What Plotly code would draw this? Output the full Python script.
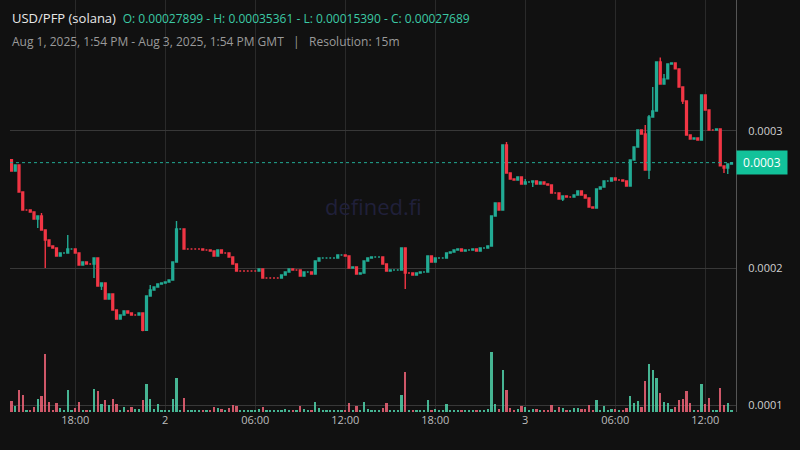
import plotly.graph_objects as go
import pandas as pd

# prices in units of 1e-5
close_e5 = [
    27.08,27.52,25.55,24.23,24.23,24.09,23.58,23.80,22.77,22.04,
    21.61,21.46,20.88,21.09,21.09,21.39,21.39,21.09,20.22,20.44,
    20.29,20.29,20.73,18.69,18.91,17.74,18.10,16.93,16.28,16.57,
    16.86,16.72,16.57,16.57,16.72,15.45,17.96,18.39,18.61,18.83,
    18.91,18.98,19.12,20.44,22.85,22.85,21.39,21.39,21.39,21.39,
    21.39,21.31,21.31,21.24,20.88,21.31,21.09,21.09,20.80,20.29,
    19.78,19.78,19.78,19.78,19.78,19.78,19.93,19.27,19.27,19.27,
    19.27,19.27,19.49,19.71,19.93,19.85,19.85,19.42,19.71,19.71,
    19.56,20.51,20.73,20.73,20.73,20.73,20.73,20.95,20.95,20.88,
    20.00,20.07,19.56,19.64,20.51,20.73,20.80,20.80,20.80,20.29,
    19.78,19.85,19.85,19.85,21.46,19.64,19.64,19.49,19.64,19.71,
    19.71,20.88,20.44,20.73,20.73,20.73,21.09,21.17,21.31,21.39,
    21.24,21.31,21.31,21.39,21.24,21.46,21.46,21.61,23.80,24.74,
    24.23,28.98,26.93,26.50,26.42,26.64,26.13,26.28,26.28,26.35,
    26.13,26.28,26.13,26.06,25.47,25.47,25.04,25.26,25.18,25.18,
    25.33,25.62,25.33,25.11,24.45,24.38,25.77,25.91,26.35,26.35,
    26.57,26.42,26.42,26.35,25.99,27.88,28.83,30.07,29.78,27.15,
    31.02,31.46,35.04,33.43,33.80,34.89,34.96,34.53,33.21,32.19,
    29.71,29.42,29.49,29.34,32.63,31.53,30.07,30.07,30.15,27.45,
    27.30,27.59,27.69,
]
first_open_e5 = 27.90
wick_hi_idx = [0, 8, 15, 37, 44, 132, 137, 169, 170, 171, 173, 174]
wick_hi_val = [27.95, 24.01, 22.41, 18.76, 23.43, 29.20, 26.50, 30.44, 31.17, 33.21, 35.361, 34.16]
wick_lo_idx = [7, 9, 22, 24, 35, 105, 139, 147, 170, 179, 190, 191]
wick_lo_val = [22.92, 20.00, 19.27, 18.39, 15.39, 18.47, 25.91, 24.89, 26.50, 31.97, 26.93, 26.86]
volume = [
    11,6,22,17,2,2,5,13,16,58, 10,2,9,4,2,22,2,4,10,2,
    2,2,23,21,8,12,7,13,8,2, 5,2,5,3,3,12,28,13,3,8,
    2,2,2,13,34,2,14,2,2,2, 2,2,2,2,5,4,3,2,4,7,
    6,2,2,2,2,2,3,5,2,2, 2,2,2,3,2,2,2,6,3,2,
    2,10,4,2,2,2,2,2,2,2, 9,2,6,2,10,3,2,2,2,4,
    9,2,2,2,17,40,2,2,2,2, 2,12,2,3,2,2,8,2,2,2,
    2,2,2,2,2,2,2,3,60,8, 3,42,22,4,2,3,6,5,2,3,
    3,2,2,2,7,2,5,4,2,2, 4,4,3,3,7,2,12,2,6,2,
    3,3,2,2,4,16,9,11,5,31, 48,42,34,19,10,9,3,5,12,13,
    21,9,2,2,28,8,14,2,2,24, 7,9,2,
]
tick_times = ["2025-08-01 18:00","2025-08-02 00:00","2025-08-02 06:00","2025-08-02 12:00",
              "2025-08-02 18:00","2025-08-03 00:00","2025-08-03 06:00","2025-08-03 12:00"]
tick_text = ["18:00","2","06:00","12:00","18:00","3","06:00","12:00"]
price_ticks = [0.0001, 0.0002, 0.0003]
last_price = 0.00027689

S = 1e-5
n = len(close_e5)
times = pd.date_range("2025-08-01 13:45", periods=n, freq="15min")
close = [c * S for c in close_e5]
opn = [first_open_e5 * S] + close[:-1]
high = [max(o, c) for o, c in zip(opn, close)]
low = [min(o, c) for o, c in zip(opn, close)]
for i, v in zip(wick_hi_idx, wick_hi_val):
    high[i] = max(high[i], v * S)
for i, v in zip(wick_lo_idx, wick_lo_val):
    low[i] = min(low[i], v * S)

GREEN = "#22ab94"
RED = "#f23645"
vcol = ["rgba(80,210,170,0.85)" if c >= o else "rgba(240,100,120,0.85)" for o, c in zip(opn, close)]

fig = go.Figure()
fig.add_trace(go.Bar(x=times, y=volume, marker_color=vcol, marker_line_width=0,
                     width=15*60*1000*0.55, yaxis="y2", showlegend=False, hoverinfo="skip"))
fig.add_trace(go.Candlestick(x=times, open=opn, high=high, low=low, close=close,
                             increasing=dict(line=dict(color=GREEN, width=1.4), fillcolor=GREEN),
                             decreasing=dict(line=dict(color=RED, width=1.4), fillcolor=RED),
                             whiskerwidth=0, showlegend=False))

fig.add_shape(type="line", xref="paper", x0=0, x1=1, y0=last_price, y1=last_price,
              line=dict(color=GREEN, width=1, dash="dot"))
fig.add_annotation(xref="paper", x=1.0, y=last_price, text=" 0.0003 ", showarrow=False,
                   xanchor="left", bgcolor="#12c29a", font=dict(color="white", size=12, family="Open Sans"),
                   borderpad=3)
fig.add_annotation(xref="paper", yref="paper", x=0.5, y=0.5, text="defined.fi", showarrow=False,
                   font=dict(color="#20203a", size=22, family="Open Sans"))
fig.add_annotation(xref="paper", yref="paper", x=0.0, y=1.0, yshift=-18, xanchor="left", yanchor="middle",
                   showarrow=False, font=dict(size=13, family="Open Sans", color="#e8e8e8"),
                   text="USD/PFP (solana)  <span style='color:#3cc9a5;font-size:12px'>O: 0.00027899 - H: 0.00035361 - L: 0.00015390 - C: 0.00027689</span>")
fig.add_annotation(xref="paper", yref="paper", x=0.0, y=1.0, yshift=-41, xanchor="left", yanchor="middle",
                   showarrow=False, font=dict(size=12, family="Open Sans", color="#9a9a9a"),
                   text="Aug 1, 2025, 1:54 PM - Aug 3, 2025, 1:54 PM GMT   |   Resolution: 15m")

fig.update_layout(
    width=800, height=450, margin=dict(l=10, r=64, t=0, b=38, autoexpand=False),
    paper_bgcolor="#111111", plot_bgcolor="#111111",
    bargap=0,
    xaxis=dict(type="date", range=["2025-08-01 13:39", "2025-08-03 14:03"], rangeslider=dict(visible=False),
               tickvals=tick_times, ticktext=tick_text, showgrid=True, gridcolor="#2a2a2a",
               tickfont=dict(color="#bdbdbd", size=11, family="Open Sans"), zeroline=False, showline=False),
    yaxis=dict(side="right", range=[9.49e-5, 39.56e-5], tickvals=price_ticks,
               ticktext=["0.0001", "0.0002", "0.0003"], gridcolor="#383838", showline=True,
               linecolor="#555555", tickfont=dict(color="#d0d0d0", size=11, family="Open Sans"),
               ticks="", ticklabelstandoff=9, zeroline=False),
    yaxis2=dict(overlaying="y", range=[0, 412], visible=False),
)
fig.write_html("out.html", config={"displayModeBar": False})
with open("out.html", encoding="utf-8") as f:
    html = f.read()
html = html.replace("<head>", "<head><style>html,body{margin:0;padding:0;background:#111111;overflow:hidden}</style>", 1)
with open("out.html", "w", encoding="utf-8") as f:
    f.write(html)
